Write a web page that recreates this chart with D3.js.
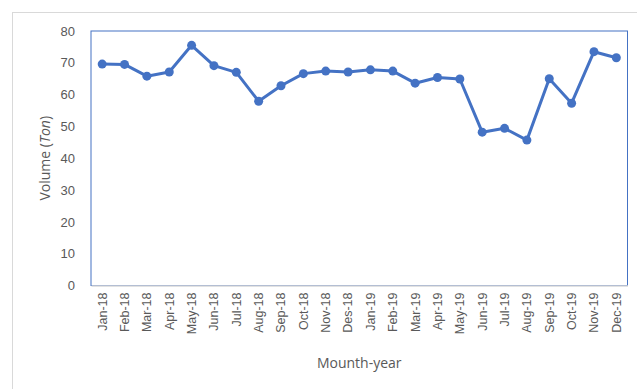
<!DOCTYPE html>
<html><head><meta charset="utf-8">
<script src="https://cdn.jsdelivr.net/npm/d3@7"></script>
<style>body{margin:0;background:#fff;}svg{display:block;font-family:"Open Sans","Liberation Sans",sans-serif;}</style>
</head><body>
<script>
const months = ["Jan-18","Feb-18","Mar-18","Apr-18","May-18","Jun-18","Jul-18","Aug-18","Sep-18","Oct-18","Nov-18","Des-18",
"Jan-19","Feb-19","Mar-19","Apr-19","May-19","Jun-19","Jul-19","Aug-19","Sep-19","Oct-19","Nov-19","Dec-19"];
const volume = [69.6,69.5,65.8,67.1,75.5,69.1,67.0,57.9,62.8,66.6,67.4,67.1,67.8,67.4,63.6,65.4,64.9,48.2,49.4,45.7,65.0,57.3,73.5,71.6];
const yTicks = [0,10,20,30,40,50,60,70,80];

const W=637,H=389;
const svg=d3.select("body").append("svg").attr("width",W).attr("height",H);
svg.append("rect").attr("x",12.5).attr("y",12.5).attr("width",W).attr("height",H).attr("fill","#fff").attr("stroke","#d9d9d9");

const L=91,T=31,R=627.5,B=285.5;
const x=d3.scaleBand().domain(months).range([L,R]);
const y=d3.scaleLinear().domain([0,80]).range([B,T]);

// plot border
svg.append("rect").attr("x",L).attr("y",T).attr("width",R-L).attr("height",B-T).attr("fill","none").attr("stroke","#4472C4").attr("stroke-width",1);

// y axis
const ya=svg.append("g").attr("transform",`translate(${L},0)`).call(d3.axisLeft(y).tickValues(yTicks).tickSize(0).tickPadding(16));
ya.select(".domain").remove();
ya.selectAll("text").attr("fill","#595959").style("font-size","13px");

// x axis
const xa=svg.append("g").attr("transform",`translate(0,${B})`).call(d3.axisBottom(x).tickSize(0));
xa.select(".domain").attr("stroke","#d9d9d9").attr("stroke-width",1.5);
xa.selectAll("text").attr("fill","#595959").style("font-size","12.5px")
  .attr("transform","rotate(-90)").attr("text-anchor","end").attr("x",-7).attr("y",0).attr("dy","0.35em");

// line
const line=d3.line().x((d,i)=>x(months[i])+x.bandwidth()/2).y(d=>y(d));
svg.append("path").datum(volume).attr("d",line).attr("fill","none").attr("stroke","#4472C4").attr("stroke-width",3).attr("stroke-linejoin","round");
svg.selectAll("circle.pt").data(volume).join("circle").attr("class","pt")
  .attr("cx",(d,i)=>x(months[i])+x.bandwidth()/2).attr("cy",d=>y(d)).attr("r",4.5).attr("fill","#4472C4");

// titles
svg.append("text").attr("x",(L+R)/2).attr("y",368).attr("text-anchor","middle").attr("fill","#595959").style("font-size","14px").text("Mounth-year");
const yt=svg.append("text").attr("transform",`translate(50,${(T+B)/2}) rotate(-90)`).attr("text-anchor","middle").attr("fill","#595959").style("font-size","14px");
yt.append("tspan").text("Volume (");
yt.append("tspan").attr("font-style","italic").text("Ton");
yt.append("tspan").text(")");
</script>
</body></html>
